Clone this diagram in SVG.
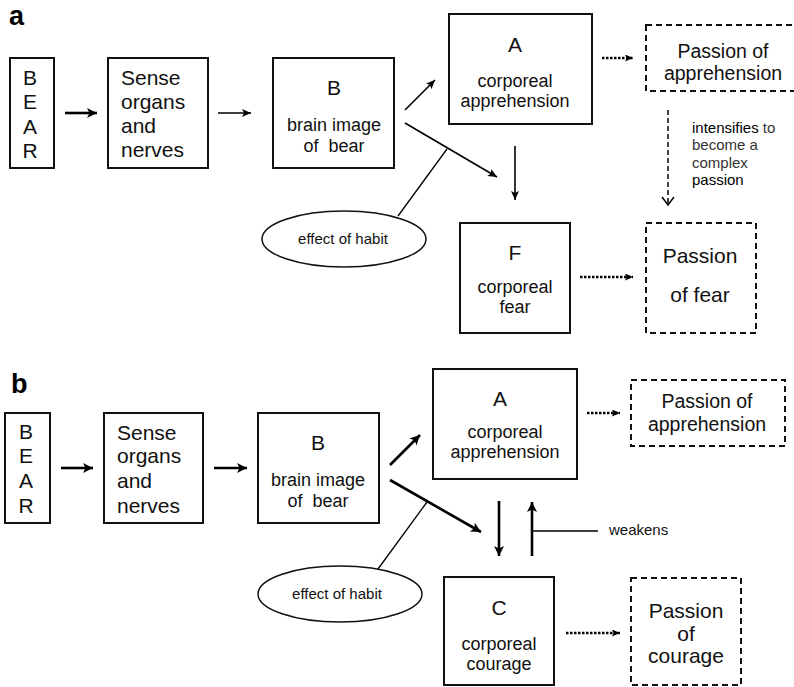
<svg xmlns="http://www.w3.org/2000/svg" width="794" height="687" viewBox="0 0 794 687">
<defs>
<marker id="ah" markerUnits="userSpaceOnUse" markerWidth="10" markerHeight="10" refX="9" refY="4" orient="auto"><path d="M0,0 L9,4 L0,8 L2,4 Z" fill="#000"/></marker>
<marker id="ahb" markerUnits="userSpaceOnUse" markerWidth="12" markerHeight="12" refX="10" refY="5" orient="auto"><path d="M0,0 L10,5 L0,10 L2.5,5 Z" fill="#000"/></marker>
<marker id="ahd" markerUnits="userSpaceOnUse" markerWidth="9" markerHeight="9" refX="8" refY="3.5" orient="auto"><path d="M0,0 L8,3.5 L0,7 L1.5,3.5 Z" fill="#000"/></marker>
<marker id="ahv" markerUnits="userSpaceOnUse" markerWidth="12" markerHeight="14" refX="9" refY="7" orient="auto"><path d="M1,1 L9,7 L1,13" fill="none" stroke="#000" stroke-width="1.5"/></marker>
</defs>
<style>
text{font-family:"Liberation Sans",Arial,Helvetica,sans-serif;fill:#111}
.box{fill:#fff;stroke:#111;stroke-width:2}
.dbox{fill:#fff;stroke:#111;stroke-width:2;stroke-dasharray:6 4}
.c{text-anchor:middle}
.f21{font-size:21px}
.f20{font-size:19.5px}
.f18{font-size:18px}
.f15{font-size:15px}
.lab{font-size:27px;font-weight:bold;fill:#000}
.ln{stroke:#000;fill:none}
.a1{stroke:#000;stroke-width:1.6;fill:none;marker-end:url(#ah)}
.a2{stroke:#000;stroke-width:2.6;fill:none;marker-end:url(#ahb)}
.dot{stroke:#000;stroke-width:2.6;stroke-dasharray:2.5 1.5;fill:none;marker-end:url(#ahd)}
.dash{stroke:#000;stroke-width:1.5;stroke-dasharray:5 3;fill:none;marker-end:url(#ahv)}
.k{fill:#000}
.g{fill:#333}
</style>

<text class="lab" x="9" y="25">a</text>
<text class="lab" x="11" y="393">b</text>

<g id="connectors">
<line class="a2" x1="65" y1="113" x2="97" y2="113"/>
<line class="a1" x1="218" y1="113" x2="251" y2="113"/>
<line class="a1" x1="405" y1="110" x2="435" y2="80"/>
<line class="a1" x1="405" y1="123" x2="497" y2="177"/>
<line class="ln" stroke-width="1.3" x1="447" y1="149" x2="398" y2="216"/>
<line class="a1" x1="515" y1="146" x2="515" y2="200"/>
<line class="dot" x1="602" y1="58" x2="633" y2="58"/>
<line class="dot" x1="580" y1="277" x2="633" y2="277"/>
<line class="dash" x1="668" y1="110" x2="668" y2="205"/>

<line class="a2" x1="61" y1="468" x2="93" y2="468"/>
<line class="a2" x1="214" y1="468" x2="247" y2="468"/>
<line class="a2" x1="390" y1="465" x2="420" y2="435"/>
<line class="a2" x1="390" y1="480" x2="481" y2="532"/>
<line class="ln" stroke-width="1.3" x1="427" y1="502" x2="378" y2="569"/>
<line class="a2" x1="499" y1="501" x2="499" y2="556"/>
<line class="a2" x1="532" y1="556" x2="532" y2="502"/>
<line class="ln" stroke-width="1.3" x1="532" y1="531" x2="598" y2="531"/>
<line class="dot" x1="587" y1="413" x2="620" y2="413"/>
<line class="dot" x1="566" y1="633" x2="620" y2="633"/>
</g>

<g id="a-bear">
<rect class="box" x="10" y="58" width="44" height="110"/>
<text class="f21 c" x="30" y="85">B</text>
<text class="f21 c" x="30" y="109">E</text>
<text class="f21 c" x="30" y="134">A</text>
<text class="f21 c" x="30" y="158">R</text>
</g>
<g id="a-sense">
<rect class="box" x="108" y="58" width="100" height="110"/>
<text class="f21" x="121" y="85">Sense</text>
<text class="f21" x="121" y="109">organs</text>
<text class="f21" x="121" y="133">and</text>
<text class="f21" x="121" y="157">nerves</text>
</g>
<g id="a-brain">
<rect class="box" x="273" y="58" width="121" height="110"/>
<text class="f21 c" x="334" y="95">B</text>
<text class="f18 c" x="334" y="131">brain image</text>
<text class="f18 c" x="334" y="152" xml:space="preserve">of  bear</text>
</g>
<g id="a-habit">
<ellipse cx="344" cy="239" rx="82" ry="28" fill="#fff" stroke="#111" stroke-width="1.5"/>
<text class="f15 c" x="343" y="244">effect of habit</text>
</g>
<g id="a-appr">
<rect class="box" x="449" y="14" width="143" height="110"/>
<text class="f21 c" x="515" y="52">A</text>
<text class="f18 c" x="515" y="87">corporeal</text>
<text class="f18 c" x="515" y="107">apprehension</text>
</g>
<g id="a-fear">
<rect class="box" x="460" y="223" width="110" height="110"/>
<text class="f21 c" x="515" y="260">F</text>
<text class="f18 c" x="515" y="293">corporeal</text>
<text class="f18 c" x="515" y="313">fear</text>
</g>
<g id="a-pass-appr">
<rect class="dbox" x="646" y="25" width="152" height="66"/>
<text class="f20 c" x="723" y="58">Passion of</text>
<text class="f20 c" x="723" y="80">apprehension</text>
</g>
<g id="a-intens">
<text class="f15" x="692" y="133"><tspan class="k">intensifies</tspan><tspan class="g"> to</tspan></text>
<text class="f15 g" x="692" y="150">become a</text>
<text class="f15 g" x="692" y="168">complex</text>
<text class="f15 k" x="692" y="185">passion</text>
</g>
<g id="a-pass-fear">
<rect class="dbox" x="646" y="223" width="110" height="110"/>
<text class="f21 c" x="700" y="263">Passion</text>
<text class="f21 c" x="700" y="302">of fear</text>
</g>

<g id="b-bear">
<rect class="box" x="5" y="413" width="45" height="110"/>
<text class="f21 c" x="26" y="439">B</text>
<text class="f21 c" x="26" y="463">E</text>
<text class="f21 c" x="26" y="488">A</text>
<text class="f21 c" x="26" y="513">R</text>
</g>
<g id="b-sense">
<rect class="box" x="104" y="413" width="99" height="110"/>
<text class="f21" x="117" y="440">Sense</text>
<text class="f21" x="117" y="463">organs</text>
<text class="f21" x="117" y="488">and</text>
<text class="f21" x="117" y="513">nerves</text>
</g>
<g id="b-brain">
<rect class="box" x="258" y="413" width="121" height="110"/>
<text class="f21 c" x="318" y="450">B</text>
<text class="f18 c" x="318" y="486">brain image</text>
<text class="f18 c" x="318" y="507" xml:space="preserve">of  bear</text>
</g>
<g id="b-habit">
<ellipse cx="340" cy="594" rx="82" ry="28" fill="#fff" stroke="#111" stroke-width="1.5"/>
<text class="f15 c" x="337" y="599">effect of habit</text>
</g>
<g id="b-appr">
<rect class="box" x="433" y="369" width="144" height="110"/>
<text class="f21 c" x="500" y="406">A</text>
<text class="f18 c" x="505" y="438">corporeal</text>
<text class="f18 c" x="505" y="458">apprehension</text>
</g>
<g id="b-weakens">
<text class="f15" x="609" y="535">weakens</text>
</g>
<g id="b-courage">
<rect class="box" x="444" y="577" width="110" height="108"/>
<text class="f21 c" x="499" y="615">C</text>
<text class="f18 c" x="499" y="650">corporeal</text>
<text class="f18 c" x="499" y="670">courage</text>
</g>
<g id="b-pass-appr">
<rect class="dbox" x="631" y="380" width="154" height="66"/>
<text class="f20 c" x="707" y="408">Passion of</text>
<text class="f20 c" x="707" y="431">apprehension</text>
</g>
<g id="b-pass-courage">
<rect class="dbox" x="631" y="578" width="110" height="107"/>
<text class="f21 c" x="686" y="618">Passion</text>
<text class="f21 c" x="686" y="641">of</text>
<text class="f21 c" x="686" y="663">courage</text>
</g>
</svg>
